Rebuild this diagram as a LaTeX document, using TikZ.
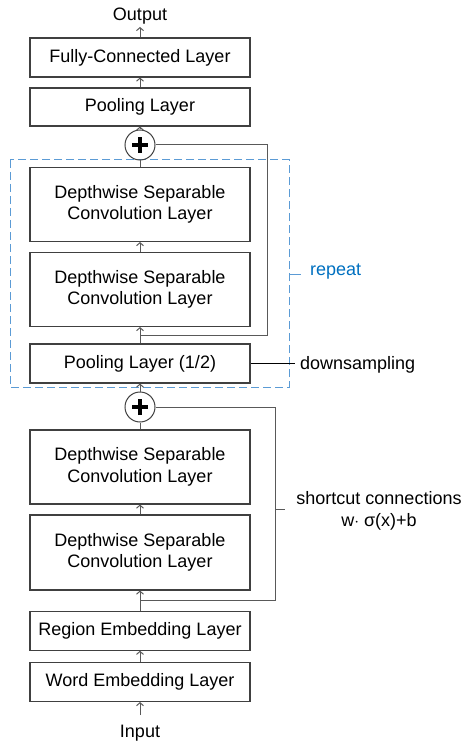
\documentclass[tikz,border=0pt]{standalone}
\usepackage{fontspec}
\setmainfont{Liberation Sans}
\usetikzlibrary{arrows.meta}
\definecolor{boxc}{HTML}{404040}
\definecolor{linec}{HTML}{595959}
\definecolor{dashc}{HTML}{5B9BD5}
\definecolor{repc}{HTML}{0070C0}
\begin{document}
\begin{tikzpicture}[x=1pt,y=-1pt,
  layer/.style={draw=boxc,line width=1.1pt,minimum width=220pt,inner sep=0pt,align=center,
    font=\fontsize{18}{21.5}\selectfont},
  addc/.style={draw=boxc,line width=1pt,circle,minimum size=30pt,inner sep=0pt},
  conn/.style={draw=linec,line width=1pt},
  arr/.style={conn,-{Straight Barb[length=3pt,width=7pt]}},
  lbl/.style={font=\fontsize{18}{21.5}\selectfont,inner sep=0pt}]
\useasboundingbox (0,0) rectangle (467,743);
% dashed repeat box
\draw[dashc,line width=1pt,dash pattern=on 8pt off 4pt] (10,160) rectangle (289,387);
% layers
\node[layer,minimum height=39pt] (fc) at (140,57.5) {Fully-Connected Layer};
\node[layer,minimum height=38pt] (pool) at (140,107) {Pooling Layer};
\node[layer,minimum height=74pt] (dsc1) at (140,204.5) {Depthwise Separable\\Convolution Layer};
\node[layer,minimum height=74pt] (dsc2) at (140,289.5) {Depthwise Separable\\Convolution Layer};
\node[layer,minimum height=39pt] (pool2) at (140,363.5) {Pooling Layer (1/2)};
\node[layer,minimum height=74pt] (dsc3) at (140,467) {Depthwise Separable\\Convolution Layer};
\node[layer,minimum height=75pt] (dsc4) at (140,552.5) {Depthwise Separable\\Convolution Layer};
\node[layer,minimum height=39pt] (region) at (140,630.7) {Region Embedding Layer};
\node[layer,minimum height=39pt] (word) at (140,682) {Word Embedding Layer};
% adders
\node[addc] (add1) at (140,145) {};
\node[addc] (add2) at (140,407) {};
\foreach \a in {add1,add2}{
  \draw[black,line width=3.2pt] ([xshift=-8pt]\a.center) -- ([xshift=8pt]\a.center);
  \draw[black,line width=3.2pt] ([yshift=-8pt]\a.center) -- ([yshift=8pt]\a.center);
}
% texts
\node[lbl] (out) at (140,16) {Output};
\node[lbl] (in) at (140,733) {Input};
\coordinate (outp) at (140,27);
\coordinate (inp) at (140,715);
% main flow
\draw[arr] (inp) -- (word.south);
\draw[arr] (word.north) -- (region.south);
\draw[arr] (region.north) -- (dsc4.south);
\draw[arr] (dsc4.north) -- (dsc3.south);
\draw[conn] (dsc3.north) -- (add2.south);
\draw[arr] (add2.north) -- (pool2.south);
\draw[arr] (pool2.north) -- (dsc2.south);
\draw[arr] (dsc2.north) -- (dsc1.south);
\draw[conn] (dsc1.north) -- (add1.south);
\draw[arr] (add1.north) -- (pool.south);
\draw[arr] (pool.north) -- (fc.south);
\draw[arr] (fc.north) -- (outp);
% shortcuts
\coordinate (s1) at (140,335);
\coordinate (s2) at (140,600);
\draw[conn] (add1.east) -- (267,145) |- (s1);
\draw[conn] (add2.east) -- (275,407) |- (s2);
% annotations
\coordinate (dsend) at (295,363.5);
\draw[draw=black,line width=1pt] (pool2.east) -- (dsend);
\node[lbl,anchor=west] (ds) at (300,365) {downsampling};
\coordinate (rp1) at (289,274);
\coordinate (rp2) at (301,274);
\draw[dashc,line width=1pt] (rp1) -- (rp2);
\node[lbl,anchor=west,text=repc] (rep) at (310,272) {repeat};
\coordinate (sc1) at (275,509);
\coordinate (sc2) at (285,509);
\draw[linec,line width=1pt] (sc1) -- (sc2);
\node[lbl,align=center] (sc) at (379,511) {shortcut connections\\w$\cdot$ σ(x)+b};
\end{tikzpicture}
\end{document}
